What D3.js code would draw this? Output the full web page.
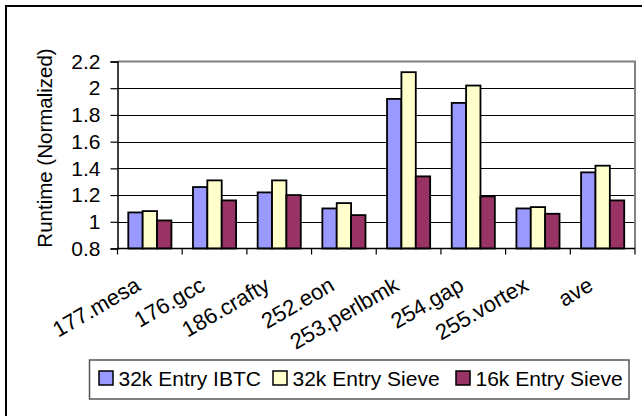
<!DOCTYPE html>
<html>
<head>
<meta charset="utf-8">
<script src="https://cdn.jsdelivr.net/npm/d3@7"></script>
<style>
  html, body { margin: 0; padding: 0; background: #fff; }
  svg { display: block; font-family: Arial, "Liberation Sans", sans-serif; }
</style>
</head>
<body>
<svg id="chart" width="642" height="416"></svg>
<script>
// Benchmarks and normalized runtimes for each configuration
const categories = ["177.mesa", "176.gcc", "186.crafty", "252.eon", "253.perlbmk", "254.gap", "255.vortex", "ave"];
const ibtc32 = [1.07, 1.26, 1.22, 1.10, 1.92, 1.89, 1.10, 1.37];
const sieve32 = [1.08, 1.31, 1.31, 1.14, 2.12, 2.02, 1.11, 1.42];
const sieve16 = [1.01, 1.16, 1.20, 1.05, 1.34, 1.19, 1.06, 1.16];
const seriesNames = ["32k Entry IBTC", "32k Entry Sieve", "16k Entry Sieve"];
const seriesColors = ["#9999ff", "#ffffcc", "#993366"];
const yTicks = [0.8, 1, 1.2, 1.4, 1.6, 1.8, 2, 2.2];

const series = [ibtc32, sieve32, sieve16];

const svg = d3.select("#chart");
const W = 642, H = 416;
const plot = { left: 117.5, right: 635, top: 61.5, bottom: 248.5 };

svg.append("rect").attr("width", W).attr("height", H).attr("fill", "#fff");

// outer chart frame
svg.append("rect")
  .attr("x", 6).attr("y", 6).attr("width", 700).attr("height", 500)
  .attr("fill", "none").attr("stroke", "#000").attr("stroke-width", 2);

const x = d3.scaleBand().domain(categories).range([plot.left, plot.right]).paddingInner(0).paddingOuter(0);
const y = d3.scaleLinear().domain([0.8, 2.2]).range([plot.bottom, plot.top]);
const barW = x.bandwidth() / 4.5;
const xs = d3.scaleBand().domain(d3.range(series.length))
  .range([ (x.bandwidth() - 3 * barW) / 2, (x.bandwidth() + 3 * barW) / 2 ]);

// gridlines
svg.append("g").selectAll("line")
  .data(yTicks.filter(t => t > 0.8 && t < 2.2))
  .join("line")
  .attr("x1", plot.left).attr("x2", plot.right)
  .attr("y1", d => Math.round(y(d)) + 0.5).attr("y2", d => Math.round(y(d)) + 0.5)
  .attr("stroke", "#000").attr("stroke-width", 1);

// plot-area border (top and right)
svg.append("path")
  .attr("d", `M${plot.left},${plot.top} H${plot.right} V${plot.bottom}`)
  .attr("fill", "none").attr("stroke", "#808080").attr("stroke-width", 2);

// bars
const groups = svg.append("g").selectAll("g")
  .data(categories)
  .join("g")
  .attr("transform", d => `translate(${x(d)},0)`);

groups.selectAll("rect")
  .data((d, i) => series.map((s, k) => ({ k, v: s[i] })))
  .join("rect")
  .attr("x", d => xs(d.k))
  .attr("width", barW)
  .attr("y", d => y(d.v))
  .attr("height", d => y(0.8) - y(d.v))
  .attr("fill", d => seriesColors[d.k])
  .attr("stroke", "#000")
  .attr("stroke-width", 1.8);

// y axis
const yAxis = d3.axisLeft(y).tickValues(yTicks).tickSize(7).tickPadding(10)
  .tickFormat(d => d3.format("~g")(d));
const gy = svg.append("g").attr("transform", `translate(${plot.left},0)`).call(yAxis);
gy.select(".domain").attr("stroke", "#000").attr("stroke-width", 1.5);
gy.selectAll(".tick line").attr("stroke", "#000").attr("stroke-width", 1.2);
gy.selectAll(".tick text").attr("font-size", 21).attr("fill", "#000")
  .attr("font-family", "Arial, 'Liberation Sans', sans-serif");

// x axis with ticks between categories
const gx = svg.append("g").attr("transform", `translate(0,${plot.bottom})`);
gx.append("line").attr("x1", plot.left).attr("x2", plot.right)
  .attr("stroke", "#000").attr("stroke-width", 1.5);
gx.selectAll("line.tk")
  .data(d3.range(categories.length + 1))
  .join("line").attr("class", "tk")
  .attr("x1", i => plot.left + i * x.step()).attr("x2", i => plot.left + i * x.step())
  .attr("y1", 0).attr("y2", 6)
  .attr("stroke", "#000").attr("stroke-width", 1.2);

gx.selectAll("text")
  .data(categories)
  .join("text")
  .attr("text-anchor", "end")
  .attr("font-size", 22)
  .attr("fill", "#000")
  .attr("transform", d => `translate(${x(d) + x.bandwidth() / 2 - 8},41) rotate(-30)`)
  .text(d => d);

// y-axis title
svg.append("text")
  .attr("transform", `translate(52,148) rotate(-90)`)
  .attr("text-anchor", "middle")
  .attr("font-size", 20.5)
  .attr("fill", "#000")
  .text("Runtime (Normalized)");

// legend
const legend = svg.append("g");
legend.append("rect")
  .attr("x", 89.5).attr("y", 360).attr("width", 539.5).attr("height", 39)
  .attr("fill", "#fff").attr("stroke", "#555").attr("stroke-width", 1.5);
const legX = [99, 273, 456];
const items = legend.selectAll("g.item")
  .data(seriesNames)
  .join("g").attr("class", "item")
  .attr("transform", (d, i) => `translate(${legX[i]},371)`);
items.append("rect")
  .attr("width", 14).attr("height", 14)
  .attr("fill", (d, i) => seriesColors[i])
  .attr("stroke", "#000").attr("stroke-width", 1.5);
items.append("text")
  .attr("x", 19.5).attr("y", 14.5)
  .attr("font-size", 21)
  .attr("fill", "#000")
  .text(d => d);
</script>
</body>
</html>
